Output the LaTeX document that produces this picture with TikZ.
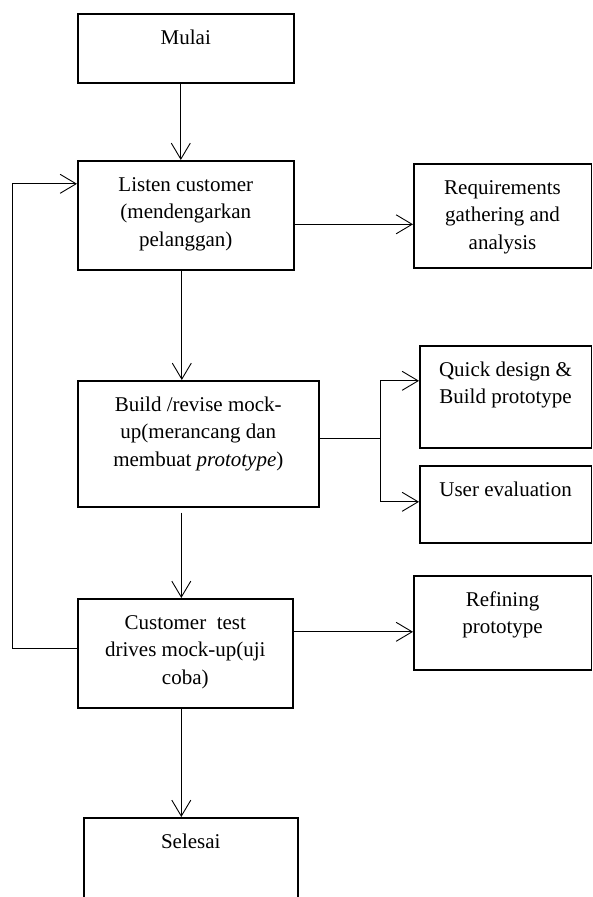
\documentclass[tikz,border=0pt]{standalone}
\usepackage{fontspec}
\setmainfont{Liberation Serif}
\usetikzlibrary{arrows.meta}

% text set at the top of a fixed-size box
\newcommand{\boxtext}[3]{\parbox[c][#2][t]{#1}{\centering\vspace*{11pt}\strut #3}}

\begin{document}
\begin{tikzpicture}[x=1pt, y=-1pt,
    box/.style={draw, line width=1.6pt, inner sep=0pt, anchor=north west},
    link/.style={line width=0.9pt},
    arr/.style={link, -{Straight Barb[length=16pt, width=19pt, line width=0.9pt]}},
    every node/.style={font=\fontsize{21pt}{27.5pt}\selectfont}]

    \useasboundingbox (0,0) rectangle (592,897);
    \clip (0,0) rectangle (592,897);

    % --- 1. column positions ---
    % xMain: main flow, xSide: side boxes, xLoop: feedback line
    \def\xMain{77}
    \def\xSide{413}
    \def\xLoop{12}

    % --- 2. main flow ---
    \node[box] (mulai)   at (\xMain, 13)  {\boxtext{216pt}{69pt}{Mulai}};
    \node[box] (listen)  at (\xMain, 160) {\boxtext{216pt}{109pt}{Listen customer\\(mendengarkan\\pelanggan)}};
    \node[box] (build)   at (\xMain, 380) {\boxtext{241pt}{126pt}{Build /revise mock-\\up(merancang dan\\membuat \textit{prototype})}};
    \node[box] (cust)    at (\xMain, 598) {\boxtext{215pt}{109pt}{Customer\ \ test\\drives mock-up(uji\\coba)}};
    \node[box] (selesai) at (83, 817)     {\boxtext{214pt}{83pt}{Selesai}};

    % --- 3. side boxes ---
    \node[box] (req)    at (\xSide, 163) {\boxtext{177.5pt}{104pt}{Requirements\\gathering and\\analysis}};
    \node[box] (quick)  at (419, 345)    {\boxtext{171.5pt}{102pt}{Quick design \&\\Build prototype}};
    \node[box] (user)   at (419, 465)    {\boxtext{171.5pt}{77pt}{User evaluation}};
    \node[box] (refine) at (\xSide, 575) {\boxtext{177.5pt}{94pt}{Refining\\prototype}};

    % --- 4. arrows down the main flow ---
    \draw[arr] ([xshift=-5pt]mulai.south) -- ([xshift=-5pt]listen.north);
    \draw[arr] ([xshift=-4pt]listen.south) -- ([xshift=-4pt]listen.south |- build.north);
    \draw[arr, shorten <=5pt] ([xshift=-4pt]cust.north |- build.south) -- ([xshift=-4pt]cust.north);
    \draw[arr] ([xshift=-4pt]cust.south) -- ([xshift=-4pt]cust.south |- selesai.north);

    % --- 5. arrows to the side boxes ---
    \draw[arr] ([yshift=-9pt]listen.east) -- ([yshift=-9pt]listen.east -| req.west);

    % branch from build to quick design and user evaluation
    \coordinate (branch) at (380, 438);
    \draw[link] (build.east |- branch) -- (branch);
    \draw[arr] (branch) |- ([yshift=16pt]quick.west);
    \draw[arr] (branch) |- ([yshift=2.5pt]user.west);

    \draw[arr] ([yshift=-9pt]refine.west -| cust.east) -- ([yshift=-9pt]refine.west);

    % --- 6. feedback from customer test back to listen ---
    \coordinate (back) at (\xLoop, 648);
    \draw[arr] (cust.west |- back) -- (back) |- ([yshift=31.5pt]listen.west);

\end{tikzpicture}
\end{document}
